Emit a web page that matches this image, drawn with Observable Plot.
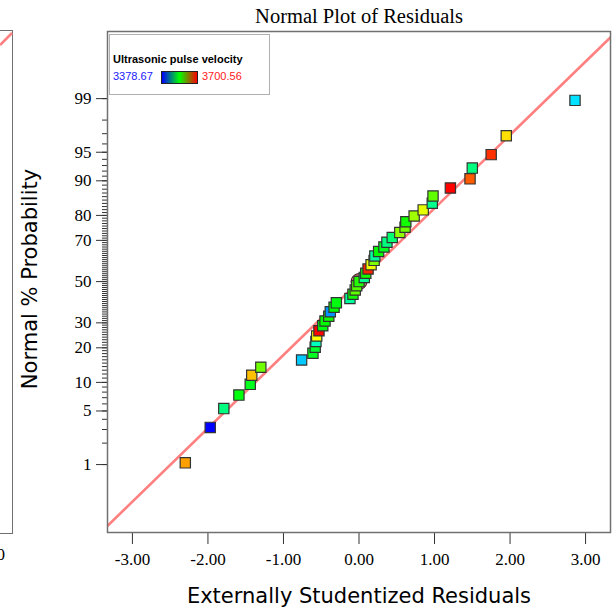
<!DOCTYPE html>
<html><head><meta charset="utf-8">
<script src="https://cdn.jsdelivr.net/npm/d3@7"></script>
<script src="https://cdn.jsdelivr.net/npm/@observablehq/plot@0.6"></script>
<style>
html,body{margin:0;padding:0;background:#fff;}
#wrap{position:relative;width:614px;height:614px;overflow:hidden;background:#fff;}
#wrap svg{position:absolute;left:0;top:0;}
#neighbor{position:absolute;left:-20px;top:30px;width:31px;height:502px;border:1.5px solid #707070;}
#neighborTick{position:absolute;right:609px;top:545px;font:17px "Liberation Serif",serif;}
#legend{position:absolute;left:109px;top:34px;width:159px;height:59px;border:1.5px solid #b0b0b0;background:#fff;font-family:"Liberation Sans",Arial,sans-serif;font-size:11px;}
#legend .ttl{position:absolute;left:3px;top:18px;font-weight:bold;color:#000;white-space:nowrap;}
#legend .lo{position:absolute;left:3px;top:35px;color:#2020ff;}
#legend .hi{position:absolute;left:92px;top:35px;color:#ff2020;}
#legend .bar{position:absolute;left:51px;top:36px;width:35px;height:11px;border:1px solid #222;background:linear-gradient(to right,#0000ff,#00ff00,#ff0000);}
</style></head>
<body><div id="wrap"><div id="neighbor"></div><div id="neighborTick">3.00</div></div>
<script>
// ---- data ----
const residuals = [-2.30,-1.97,-1.79,-1.59,-1.44,-1.42,-1.30,-0.76,-0.61,-0.58,-0.57,-0.56,-0.53,-0.48,-0.45,-0.40,-0.38,-0.33,-0.30,-0.12,-0.08,-0.05,-0.03,0.00,0.07,0.09,0.12,0.16,0.20,0.21,0.26,0.33,0.37,0.44,0.54,0.61,0.62,0.73,0.85,0.97,0.98,1.21,1.47,1.50,1.75,1.95,2.86];
const probabilities = [1.06,3.19,5.32,7.45,9.57,11.70,13.83,15.96,18.09,20.21,22.34,24.47,26.60,28.72,30.85,32.98,35.11,37.23,39.36,41.49,43.62,45.74,47.87,50.00,52.13,54.26,56.38,58.51,60.64,62.77,64.89,67.02,69.15,71.28,73.40,75.53,77.66,79.79,81.91,84.04,86.17,88.30,90.43,92.55,94.68,96.81,98.94];
const velocities = [3650,3378.67,3500,3535,3530,3640,3575,3442,3530,3525,3480,3620,3700,3535,3540,3545,3425,3540,3535,3490,3545,3570,3565,3550,3495,3545,3690,3615,3580,3490,3540,3530,3500,3505,3585,3575,3545,3590,3612,3495,3570,3700,3672,3500,3685,3630,3450];
const velocityRange = [3378.67, 3700.56];
const highlightResidual = [0.00];
const highlightProbability = [50.00];
const fitLineResiduals = [-3.4, 3.4];
const fitLineProbabilities = [0.076, 99.924];
const xTicks = [-3,-2,-1,0,1,2,3];
const yMajorTicks = [1,5,10,20,30,50,70,80,90,95,99];
const yMinorTicks = [1,2,3,4,5,6,7,8,9,10,11,12,13,14,15,16,17,18,19,20,21,22,23,24,25,26,27,28,29,30,31,32,33,34,35,36,37,38,39,40,41,42,43,44,45,46,47,48,49,50,51,52,53,54,55,56,57,58,59,60,61,62,63,64,65,66,67,68,69,70,71,72,73,74,75,76,77,78,79,80,81,82,83,84,85,86,87,88,89,90,91,92,93,94,95,96,97,98,99];

// inverse normal CDF (Acklam)
function probit(p){
  const a=[-3.969683028665376e+01,2.209460984245205e+02,-2.759285104469687e+02,1.383577518672690e+02,-3.066479806614716e+01,2.506628277459239e+00];
  const b=[-5.447609879822406e+01,1.615858368580409e+02,-1.556989798598866e+02,6.680131188771972e+01,-1.328068155288572e+01];
  const c=[-7.784894002430293e-03,-3.223964580411365e-01,-2.400758277161838e+00,-2.549732539343734e+00,4.374664141464968e+00,2.938163982698783e+00];
  const d=[7.784695709041462e-03,3.224671290700398e-01,2.445134137142996e+00,3.754408661907416e+00];
  const pl=0.02425, ph=1-pl;
  if(p<pl){const q=Math.sqrt(-2*Math.log(p));return (((((c[0]*q+c[1])*q+c[2])*q+c[3])*q+c[4])*q+c[5])/((((d[0]*q+d[1])*q+d[2])*q+d[3])*q+1);}
  if(p<=ph){const q=p-0.5,r=q*q;return (((((a[0]*r+a[1])*r+a[2])*r+a[3])*r+a[4])*r+a[5])*q/(((((b[0]*r+b[1])*r+b[2])*r+b[3])*r+b[4])*r+1);}
  const q=Math.sqrt(-2*Math.log(1-p));return -(((((c[0]*q+c[1])*q+c[2])*q+c[3])*q+c[4])*q+c[5])/((((d[0]*q+d[1])*q+d[2])*q+d[3])*q+1);
}
const z = pct => probit(pct/100);

const points = residuals.map((r,i)=>({r, p: probabilities[i], v: velocities[i]}));
const fitLine = fitLineResiduals.map((r,i)=>({r, p: fitLineProbabilities[i]}));
const highlight = highlightResidual.map((r,i)=>({r, p: highlightProbability[i]}));
const majorLabel = new Map(yMajorTicks.map(t=>[z(t), String(t)]));

const serif = "Liberation Serif, Times New Roman, serif";
const sans = "DejaVu Sans, Verdana, sans-serif";

const chart = Plot.plot({
  width: 614, height: 614,
  marginLeft: 107, marginRight: 4, marginTop: 31, marginBottom: 82,
  style: {background: "transparent", overflow: "visible", color: "#000"},
  x: {domain: [-3.33, 3.33]},
  y: {domain: [-3.19, 3.18]},
  color: {type: "linear", domain: velocityRange, interpolate: t => d3.hsl(240*(1-t), 1, 0.5).toString()},
  marks: [
    Plot.line(fitLine, {x: "r", y: d => z(d.p), stroke: "#ff8080", strokeWidth: 2.6, clip: true}),
    Plot.axisX({ticks: xTicks, tickFormat: d => d.toFixed(2), tickSize: 12, tickPadding: 8, fontSize: 17, fontFamily: serif, label: null, stroke: "#333"}),
    Plot.axisY({ticks: yMinorTicks.map(z), tickFormat: () => "", tickSize: 5, label: null, stroke: "#333"}),
    Plot.axisY({ticks: yMajorTicks.map(z), tickFormat: d => majorLabel.get(d), tickSize: 11, tickPadding: 5, fontSize: 17, fontFamily: serif, label: null, stroke: "#333"}),
    Plot.dot(highlight, {x: "r", y: d => z(d.p), r: 8, fill: "#a84848", fillOpacity: 0.75, stroke: "#3a1a1a", strokeWidth: 1}),
    Plot.dot(points, {x: "r", y: d => z(d.p), fill: "v", symbol: "square", r: 5.8, stroke: "#333", strokeWidth: 1.2}),
    Plot.frame({stroke: "#707070", strokeWidth: 1.5}),
    Plot.text(["Normal Plot of Residuals"], {frameAnchor: "top", dy: -23, fontSize: 20.5, fontFamily: serif, fill: "#000"}),
    Plot.text(["Externally Studentized Residuals"], {frameAnchor: "bottom", dy: 70, fontSize: 21, fontFamily: sans, fill: "#000"}),
    Plot.text(["Normal % Probability"], {frameAnchor: "left", textAnchor: "middle", dx: -77, dy: -3, rotate: -90, fontSize: 21, fontFamily: sans, fill: "#000"})
  ]
});
document.getElementById("wrap").prepend(chart);

// legend (HTML overlay, values from the color scale domain)
const lg = document.createElement("div");
lg.id = "legend";
lg.innerHTML = `<div class="ttl">Ultrasonic pulse velocity</div><div class="lo">${velocityRange[0].toFixed(2)}</div><div class="bar"></div><div class="hi">${velocityRange[1].toFixed(2)}</div>`;
document.getElementById("wrap").appendChild(lg);

// neighbouring chart's fit line fragment (cropped at left edge)
const nb = d3.select("#wrap").append("svg").attr("width", 14).attr("height", 60).style("left","0px").style("top","0px");
nb.append("line").attr("x1",0).attr("y1",45).attr("x2",12).attr("y2",33).attr("stroke","#ff8080").attr("stroke-width",2.6);
</script>
</body></html>
